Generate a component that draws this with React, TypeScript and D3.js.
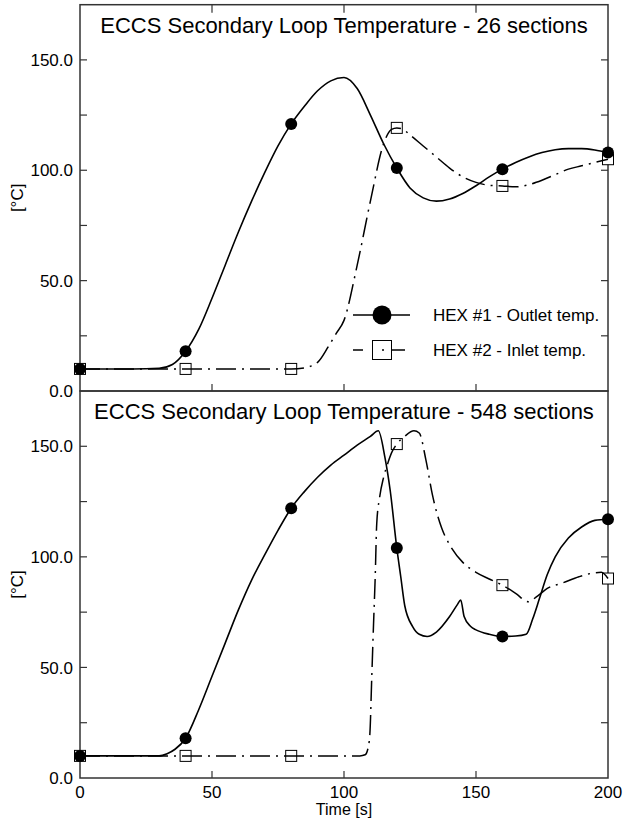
import { useRef, useEffect } from "react";
import * as d3 from "d3";

// Titles and labels
const titles = [
  "ECCS Secondary Loop Temperature - 26 sections",
  "ECCS Secondary Loop Temperature - 548 sections",
];
const legendLabels = ["HEX #1 - Outlet temp.", "HEX #2 - Inlet temp."];
const xTickValues = [0, 50, 100, 150, 200];
const yTickValues = [25, 50, 75, 100, 125, 150];
const yLabelValues = [0, 50, 100, 150];
const markerTimes = [0, 40, 80, 120, 160, 200];

// 26 sections - HEX #1 outlet
const t26Hex1 = [0, 10, 20, 30, 35, 40, 45, 50, 55, 60, 65, 70, 75, 80, 85, 90, 95, 100, 105, 110, 115, 120, 125, 130, 135, 140, 145, 150, 155, 160, 165, 170, 175, 180, 185, 190, 195, 200];
const v26Hex1 = [10, 10, 10, 10.3, 12, 18, 28, 42, 57, 72, 86, 99, 111, 121, 129, 136, 140.5, 142, 137, 125, 112, 101, 92, 87.5, 86, 87, 89.5, 93, 97, 100.5, 103.5, 106, 108, 109.3, 109.8, 109.8, 109.2, 108];

// 26 sections - HEX #2 inlet
const t26Hex2 = [0, 40, 80, 85, 90, 94, 97, 100, 105, 110, 115, 118, 120, 122, 125, 130, 135, 140, 145, 150, 155, 160, 165, 170, 175, 180, 185, 190, 195, 200];
const v26Hex2 = [10, 10, 10, 10.5, 13, 20, 26, 32, 57, 86, 112, 118.5, 119.2, 118.8, 116, 111, 106, 101, 97, 94.5, 93.2, 92.9, 92.5, 93.5, 95.5, 98, 100.5, 102, 103.5, 105];

// 548 sections - HEX #1 outlet
const t548Hex1 = [0, 10, 20, 30, 33, 36, 40, 45, 50, 55, 60, 65, 70, 75, 80, 85, 90, 95, 100, 105, 110, 113, 115.5, 117.5, 120, 121.5, 123, 126, 128.5, 131.5, 135, 140, 143, 144.2, 145.5, 148, 150, 155, 160, 165, 169, 171.5, 174, 177, 180, 185, 190, 195, 200];
const v548Hex1 = [10, 10, 10, 10, 11, 13, 18, 31, 46, 61, 76, 89.5, 101, 112, 122, 129.5, 136, 141.5, 146, 150.5, 154.5, 157, 145, 130, 104, 91, 78, 68.5, 65, 64, 66, 73, 78.5, 80.5, 73, 68.5, 67, 65, 64, 64.2, 65, 72, 81, 92, 100, 108.5, 113.5, 116.5, 117];

// 548 sections - HEX #2 inlet
const t548Hex2 = [0, 40, 80, 100, 106, 108, 109, 109.8, 110.5, 111.2, 111.8, 112.4, 113.5, 115, 116.5, 118, 120, 123, 126.5, 128.5, 131, 133.5, 137, 140, 145, 150, 155, 160, 165, 169.8, 173, 177, 183, 189, 195, 197.5, 200];
const v548Hex2 = [10, 10, 10, 10, 10, 10.5, 13, 20, 45, 70, 90, 115, 127, 136, 142, 147, 151, 154.5, 157, 156, 144, 128, 113, 105.5, 97.5, 93, 90, 87.2, 83.5, 79.7, 82, 85.7, 88.3, 91, 92.8, 93, 90.2];

const W = 623;
const H = 820;

const App = () => {
  const svgRef = useRef<SVGSVGElement>(null);

  useEffect(() => {
    const svg = d3.select(svgRef.current);
    svg.selectAll("*").remove();

    const x = d3.scaleLinear().domain([0, 200]).range([80, 608]);
    const frameColor = "#333";
    const font = "'Liberation Sans', Arial, sans-serif";

    const panels = [
      { top: 4.7, bottom: 391, title: titles[0], t1: t26Hex1, v1: v26Hex1, t2: t26Hex2, v2: v26Hex2, topTicks: true },
      { top: 391, bottom: 778, title: titles[1], t1: t548Hex1, v1: v548Hex1, t2: t548Hex2, v2: v548Hex2, topTicks: false },
    ];

    panels.forEach((p, pi) => {
      const y = d3.scaleLinear().domain([0, 175]).range([p.bottom, p.top]);
      const g = svg.append("g");

      // frame
      g.append("rect")
        .attr("x", x(0))
        .attr("y", p.top)
        .attr("width", x(200) - x(0))
        .attr("height", p.bottom - p.top)
        .attr("fill", "none")
        .attr("stroke", frameColor)
        .attr("stroke-width", 1.5);

      // y ticks, both sides
      yTickValues.forEach((v) => {
        g.append("line").attr("x1", x(0)).attr("x2", x(0) + 7).attr("y1", y(v)).attr("y2", y(v)).attr("stroke", frameColor).attr("stroke-width", 1.2);
        g.append("line").attr("x1", x(200)).attr("x2", x(200) - 7).attr("y1", y(v)).attr("y2", y(v)).attr("stroke", frameColor).attr("stroke-width", 1.2);
      });

      // x ticks
      xTickValues.slice(1, -1).forEach((t) => {
        g.append("line").attr("x1", x(t)).attr("x2", x(t)).attr("y1", p.bottom).attr("y2", p.bottom - 7).attr("stroke", frameColor).attr("stroke-width", 1.2);
        if (p.topTicks) {
          g.append("line").attr("x1", x(t)).attr("x2", x(t)).attr("y1", p.top).attr("y2", p.top + 8).attr("stroke", frameColor).attr("stroke-width", 1.2);
        }
      });

      // y tick labels
      yLabelValues.forEach((v) => {
        g.append("text")
          .attr("x", x(0) - 7)
          .attr("y", y(v))
          .attr("dy", "0.36em")
          .attr("text-anchor", "end")
          .attr("font-size", 17)
          .attr("font-family", font)
          .text(d3.format(".1f")(v));
      });

      // y axis label
      g.append("text")
        .attr("transform", `translate(23,${(p.top + p.bottom) / 2}) rotate(-90)`)
        .attr("text-anchor", "middle")
        .attr("font-size", 17)
        .attr("font-family", font)
        .text("[°C]");

      // title
      g.append("text")
        .attr("x", (x(0) + x(200)) / 2)
        .attr("y", p.top + 28)
        .attr("text-anchor", "middle")
        .attr("font-size", 22)
        .attr("font-family", font)
        .text(p.title);

      const pts1 = p.t1.map((t, i) => [t, p.v1[i]] as [number, number]);
      const pts2 = p.t2.map((t, i) => [t, p.v2[i]] as [number, number]);
      const path = d3
        .line<[number, number]>()
        .x((d) => x(d[0]))
        .y((d) => y(d[1]))
        .curve(d3.curveMonotoneX);

      // squares for HEX #2
      const sq = 11;
      g.selectAll(".sq")
        .data(pts2.filter((d) => markerTimes.includes(d[0])))
        .enter()
        .append("rect")
        .attr("x", (d) => x(d[0]) - sq / 2)
        .attr("y", (d) => y(d[1]) - sq / 2)
        .attr("width", sq)
        .attr("height", sq)
        .attr("fill", "white")
        .attr("stroke", "black")
        .attr("stroke-width", 1);

      g.append("path")
        .attr("d", path(pts2))
        .attr("fill", "none")
        .attr("stroke", "black")
        .attr("stroke-width", 1.5)
        .attr("stroke-dasharray", "20,6,2,6");

      g.append("path")
        .attr("d", path(pts1))
        .attr("fill", "none")
        .attr("stroke", "black")
        .attr("stroke-width", 1.6);

      g.selectAll(".dot")
        .data(pts1.filter((d) => markerTimes.includes(d[0])))
        .enter()
        .append("circle")
        .attr("cx", (d) => x(d[0]))
        .attr("cy", (d) => y(d[1]))
        .attr("r", 6)
        .attr("fill", "black");

      if (pi === 0) {
        // legend
        const rows = [315, 350];
        const lx1 = 353;
        const lx2 = 410;
        const lxc = 382;
        g.append("line").attr("x1", lx1).attr("x2", lx2).attr("y1", rows[0]).attr("y2", rows[0]).attr("stroke", "black").attr("stroke-width", 1.5);
        g.append("circle").attr("cx", lxc).attr("cy", rows[0]).attr("r", 9.5).attr("fill", "black");
        g.append("rect").attr("x", lxc - 9.5).attr("y", rows[1] - 9.5).attr("width", 19).attr("height", 19).attr("fill", "white").attr("stroke", "black").attr("stroke-width", 1);
        g.append("line").attr("x1", lx1).attr("x2", lx2 - 5).attr("y1", rows[1]).attr("y2", rows[1]).attr("stroke", "black").attr("stroke-width", 1.5).attr("stroke-dasharray", "10,19,2,8,30");
        legendLabels.forEach((l, i) => {
          g.append("text")
            .attr("x", 433)
            .attr("y", rows[i])
            .attr("dy", "0.36em")
            .attr("font-size", 17)
            .attr("font-family", font)
            .text(l);
        });
      } else {
        // x tick labels
        xTickValues.forEach((t) => {
          g.append("text")
            .attr("x", x(t))
            .attr("y", 798)
            .attr("text-anchor", "middle")
            .attr("font-size", 17)
            .attr("font-family", font)
            .text(t);
        });
        g.append("text")
          .attr("x", (x(0) + x(200)) / 2)
          .attr("y", 815)
          .attr("text-anchor", "middle")
          .attr("font-size", 16)
          .attr("font-family", font)
          .text("Time [s]");
      }
    });
  }, []);

  return (
    <svg
      ref={svgRef}
      width={W}
      height={H}
      style={{ position: "absolute", left: 0, top: 0, background: "white" }}
    ></svg>
  );
};

export default App;
